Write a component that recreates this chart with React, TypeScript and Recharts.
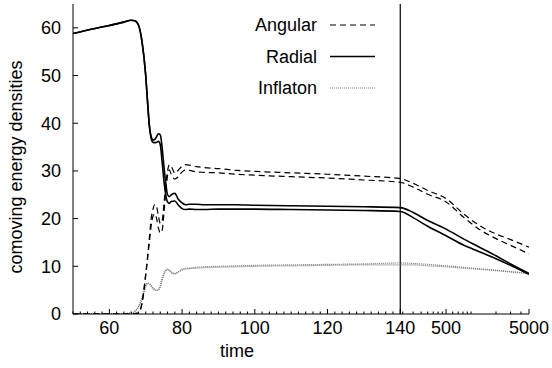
import { LineChart, Line, XAxis, YAxis, ReferenceLine, Legend } from "recharts";

const FONT = '"Liberation Sans", Arial, Helvetica, sans-serif';
const FS = 18;

// sample times (linear part up to 140, log part after)
const time = [
  50, 55, 60, 64, 66, 67, 68, 69, 70, 70.5, 71, 71.5, 72, 72.5, 73, 73.5, 74, 74.5, 75, 75.5, 76, 76.5, 77, 78, 79,
  80, 81, 82, 84, 86, 90, 95, 100, 110, 120, 130, 140, 200, 300, 500, 800, 1200, 2000, 3000, 5000,
];

const angularA = [
  0, 0, 0, 0, 0, 0.1, 0.2, 2.5, 8.5, 12, 16, 20, 22, 23, 22.5, 20.5, 19, 19.5, 23, 27, 30, 31.3, 31, 29.5, 30.2,
  31, 31.3, 31.2, 30.9, 30.7, 30.5, 30.1, 29.9, 29.6, 29.3, 28.9, 28.4, 27.4, 25.9, 24.2, 21.1, 18.8, 16.8, 15.6, 14.0,
];
const angularB = [
  0, 0, 0, 0, 0, 0.1, 0.2, 2.2, 8, 11.5, 15, 18.5, 20.5, 21, 20, 18, 17, 17.5, 21, 25.5, 29, 30.2, 29.3, 28.3, 28.8,
  29.8, 30.2, 30.1, 29.8, 29.7, 29.6, 29.3, 29.1, 28.8, 28.5, 28.1, 27.6, 26.6, 25.1, 23.5, 20.4, 18.0, 15.8, 14.4, 12.6,
];
const radialA = [
  58.8, 59.7, 60.5, 61.2, 61.6, 61.5, 60.6, 57.0, 50.0, 44.5, 39.5, 37.2, 36.5, 36.6, 37.2, 37.8, 37.6, 35.0, 31.0, 27.5,
  25.0, 24.6, 25.0, 25.3, 24.0, 23.3, 22.9, 23.0, 23.0, 22.9, 22.9, 22.9, 22.8, 22.7, 22.6, 22.5, 22.3, 21.3, 19.6, 17.8,
  15.8, 14.2, 12.2, 10.5, 8.5,
];
const radialB = [
  58.8, 59.7, 60.5, 61.2, 61.6, 61.5, 60.6, 57.0, 50.0, 44.5, 39.5, 36.8, 36.0, 35.9, 36.0, 36.2, 35.5, 32.0, 28.0, 25.0,
  23.5, 23.2, 23.6, 23.7, 22.8, 22.1, 21.9, 22.0, 21.9, 21.9, 22.0, 22.0, 22.0, 21.9, 21.8, 21.7, 21.5, 20.2, 18.4, 16.4,
  14.5, 13.2, 11.6, 10.2, 8.3,
];
const inflatonA = [
  0.1, 0.1, 0.1, 0.1, 0.2, 0.6, 1.6, 3.5, 6.0, 6.5, 6.3, 5.8, 5.3, 5.0, 4.9, 5.1, 6.0, 7.5, 8.6, 9.2, 9.4, 9.2, 8.7, 8.4,
  8.9, 9.4, 9.6, 9.6, 9.8, 9.9, 10.0, 10.1, 10.2, 10.3, 10.4, 10.5, 10.7, 10.6, 10.4, 10.1, 9.8, 9.5, 9.2, 8.9, 8.6,
];
const inflatonB = [
  0.1, 0.1, 0.1, 0.1, 0.2, 0.5, 1.4, 3.2, 5.7, 6.4, 6.4, 6.0, 5.5, 5.2, 5.0, 5.0, 5.6, 7.0, 8.3, 9.0, 9.3, 9.2, 8.8, 8.5,
  8.8, 9.2, 9.4, 9.5, 9.6, 9.7, 9.8, 9.9, 10.0, 10.1, 10.2, 10.3, 10.3, 10.3, 10.1, 9.9, 9.6, 9.4, 9.1, 8.8, 8.5,
];

const xMajor = [60, 80, 100, 120, 140, 500, 5000];
const xMinorLog = [150, 200, 250, 300, 350, 400, 450, 600, 700, 800, 900, 1000, 2000, 3000, 4000];
const yTicks = [0, 10, 20, 30, 40, 50, 60];

// x axis: linear up to 140, then log10 stretched to match the px scale of the gnuplot panel
const LIN_END = 140;
const UNITS_PER_DECADE = 22.8;
const toAxis = (t: number) => (t <= LIN_END ? t : LIN_END + UNITS_PER_DECADE * Math.log10(t / LIN_END));

const xMinorLin: number[] = [];
for (let t = 50; t <= LIN_END; t += 2) if (!xMajor.includes(t)) xMinorLin.push(t);
const xTicks = [...xMinorLin, ...xMajor, ...xMinorLog].map(toAxis);
const xLabel = new Map(xMajor.map((t) => [toAxis(t), String(t)]));

const rows = time.map((t, i) => ({
  u: toAxis(t),
  angularA: angularA[i],
  angularB: angularB[i],
  radialA: radialA[i],
  radialB: radialB[i],
  inflatonA: inflatonA[i],
  inflatonB: inflatonB[i],
}));

const STYLE = {
  Angular: { stroke: "#000", dash: "6 4", width: 1.2 },
  Radial: { stroke: "#000", dash: undefined, width: 1.6 },
  Inflaton: { stroke: "#7a7a7a", dash: "1 1", width: 1.2 },
};
const legendNames = ["Angular", "Radial", "Inflaton"] as const;

const txt = { fontSize: FS, fontFamily: FONT, fill: "#000" };

function BottomTick({ x, y, payload }: any) {
  const label = xLabel.get(payload.value);
  const len = label ? 5 : 2.5;
  return (
    <g>
      <line x1={x} x2={x} y1={y} y2={y - len} stroke="#000" />
      {label && (
        <text x={x} y={y + 20} textAnchor="middle" {...txt}>
          {label}
        </text>
      )}
    </g>
  );
}

function TopTick({ x, y, payload }: any) {
  const len = xLabel.has(payload.value) ? 5 : 2.5;
  return <line x1={x} x2={x} y1={y} y2={y + len} stroke="#000" />;
}

function LeftTick({ x, y, payload }: any) {
  return (
    <g>
      <line x1={x} x2={x + 5} y1={y} y2={y} stroke="#000" />
      <text x={x - 12} y={y} dy={6.4} textAnchor="end" {...txt}>
        {payload.value}
      </text>
    </g>
  );
}

function RightTick({ x, y }: any) {
  return <line x1={x} x2={x - 5} y1={y} y2={y} stroke="#000" />;
}

function LegendBox() {
  return (
    <svg width={160} height={100}>
      {legendNames.map((name, i) => {
        const cy = 17 + i * 31.5;
        const s = STYLE[name];
        return (
          <g key={name}>
            <text x={87} y={cy} dy={6.4} textAnchor="end" {...txt}>
              {name}
            </text>
            <line x1={100} x2={145} y1={cy} y2={cy} stroke={s.stroke} strokeWidth={s.width} strokeDasharray={s.dash} />
          </g>
        );
      })}
    </svg>
  );
}

const series = [
  { key: "inflatonA", kind: "Inflaton" },
  { key: "inflatonB", kind: "Inflaton" },
  { key: "radialA", kind: "Radial" },
  { key: "radialB", kind: "Radial" },
  { key: "angularA", kind: "Angular" },
  { key: "angularB", kind: "Angular" },
] as const;

export default function App() {
  const uMax = toAxis(5000);
  return (
    <div style={{ width: 552, height: 368, background: "#fff" }}>
      <style>{"body{margin:0}"}</style>
      <LineChart width={552} height={368} data={rows} margin={{ top: 4, right: 23, bottom: 0, left: 0 }}>
        <XAxis
          xAxisId="b"
          dataKey="u"
          type="number"
          domain={[50, uMax]}
          allowDataOverflow
          ticks={xTicks}
          interval={0}
          height={54}
          tickSize={0}
          tickMargin={0}
          tick={<BottomTick />}
          axisLine={{ stroke: "#000" }}
          label={() => (
            <text x={237} y={357} textAnchor="middle" {...txt}>
              time
            </text>
          )}
        />
        <XAxis
          xAxisId="t"
          orientation="top"
          dataKey="u"
          type="number"
          domain={[50, uMax]}
          allowDataOverflow
          ticks={xTicks}
          interval={0}
          height={0}
          tickSize={0}
          tickMargin={0}
          tick={<TopTick />}
          axisLine={{ stroke: "#000" }}
        />
        <YAxis
          yAxisId="l"
          type="number"
          domain={[0, 65]}
          allowDataOverflow
          ticks={yTicks}
          interval={0}
          width={73}
          tickSize={0}
          tickMargin={0}
          tick={<LeftTick />}
          axisLine={{ stroke: "#000" }}
          label={() => (
            <text x={22} y={167} transform="rotate(-90 22 167)" textAnchor="middle" {...txt}>
              comoving energy densities
            </text>
          )}
        />
        <YAxis
          yAxisId="r"
          orientation="right"
          type="number"
          domain={[0, 65]}
          allowDataOverflow
          ticks={yTicks}
          interval={0}
          width={0}
          tickSize={0}
          tickMargin={0}
          tick={<RightTick />}
          axisLine={{ stroke: "#000" }}
        />
        <ReferenceLine xAxisId="b" yAxisId="l" x={toAxis(140)} stroke="#000" strokeWidth={1.2} />
        {series.map((s) => {
          const st = STYLE[s.kind];
          return (
            <Line
              key={s.key}
              xAxisId="b"
              yAxisId="l"
              dataKey={s.key}
              type="monotone"
              stroke={st.stroke}
              strokeWidth={st.width}
              strokeDasharray={st.dash}
              dot={false}
              activeDot={false}
              isAnimationActive={false}
            />
          );
        })}
        <Legend
          layout="vertical"
          align="center"
          verticalAlign="middle"
          content={() => <LegendBox />}
          wrapperStyle={{ left: 230, top: 8, width: 160, height: 100 }}
        />
      </LineChart>
    </div>
  );
}
